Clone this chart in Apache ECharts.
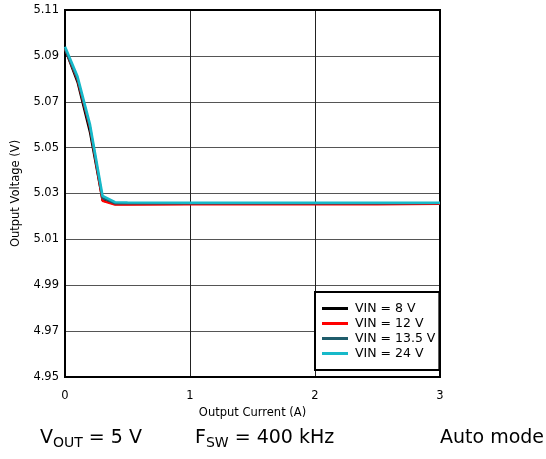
<!DOCTYPE html>
<html>
<head>
<meta charset="utf-8">
<script src="https://cdn.jsdelivr.net/npm/echarts@6/dist/echarts.min.js"></script>
<style>
  html, body { margin: 0; padding: 0; background: #fff; }
  #chart { width: 546px; height: 459px; }
</style>
</head>
<body>
<div id="chart"></div>
<script>
// Load regulation: output voltage vs. output current for several input voltages
const currents = [0, 0.1, 0.2, 0.3, 0.4, 0.5, 1, 1.5, 2, 2.5, 3];
const vin8   = [5.093, 5.0785, 5.0565, 5.0270, 5.0254, 5.0254, 5.0255, 5.0255, 5.0255, 5.0255, 5.0257];
const vin12  = [5.093, 5.0795, 5.0585, 5.0268, 5.0251, 5.0251, 5.0252, 5.0252, 5.0252, 5.0253, 5.0255];
const vin135 = [5.093, 5.0800, 5.0590, 5.0280, 5.0257, 5.0257, 5.0257, 5.0257, 5.0257, 5.0257, 5.0258];
const vin24  = [5.094, 5.0810, 5.0600, 5.0290, 5.0262, 5.0261, 5.0260, 5.0260, 5.0260, 5.0260, 5.0260];

const seriesNames = ['VIN = 8 V', 'VIN = 12 V', 'VIN = 13.5 V', 'VIN = 24 V'];
const seriesValues = [vin8, vin12, vin135, vin24];
const seriesColors = ['#000000', '#ff0000', '#1f5c6b', '#17b9c9'];

const yTicks = ['4.95', '4.97', '4.99', '5.01', '5.03', '5.05', '5.07', '5.09', '5.11'];
const xTicks = ['0', '1', '2', '3'];

const FONT = 'DejaVu Sans';

const chart = echarts.init(document.getElementById('chart'), null, { renderer: 'canvas' });

chart.setOption({
  animation: false,
  backgroundColor: '#fff',
  textStyle: { fontFamily: FONT },
  grid: {
    left: 65, right: 106, top: 10, bottom: 82,
    show: true, borderColor: '#000', borderWidth: 2, backgroundColor: 'transparent', z: 3
  },
  xAxis: {
    type: 'value',
    min: 0, max: 3, interval: 1,
    name: 'Output Current (A)',
    nameLocation: 'middle',
    nameGap: 28,
    nameTextStyle: { fontFamily: FONT, fontSize: 11.5, color: '#000' },
    axisLine: { show: false },
    axisTick: { show: false },
    axisLabel: { fontFamily: FONT, fontSize: 11.5, color: '#000', margin: 13,
      formatter: v => xTicks[Math.round(v)] },
    splitLine: { show: true, lineStyle: { color: '#222', width: 1 } }
  },
  yAxis: {
    type: 'value',
    min: 4.95, max: 5.11, interval: 0.02,
    name: 'Output Voltage (V)',
    nameLocation: 'middle',
    nameGap: 43,
    nameTextStyle: { fontFamily: FONT, fontSize: 11.5, color: '#000' },
    axisLine: { show: false },
    axisTick: { show: false },
    axisLabel: { fontFamily: FONT, fontSize: 11.5, color: '#000', margin: 6,
      formatter: v => yTicks[Math.round((v - 4.95) / 0.02)] },
    splitLine: { show: true, lineStyle: { color: '#555', width: 1 } }
  },
  legend: {
    orient: 'vertical',
    left: 315, top: 292,
    padding: [9, 4, 9, 7],
    itemGap: 0,
    itemWidth: 26, itemHeight: 3,
    icon: 'rect',
    backgroundColor: '#fff',
    borderColor: '#000', borderWidth: 2, borderRadius: 0,
    textStyle: { fontFamily: FONT, fontSize: 12.5, color: '#000', lineHeight: 15, padding: [0, 0, 0, 2] },
    data: seriesNames
  },
  series: seriesNames.map((name, i) => ({
    name,
    type: 'line',
    data: currents.map((c, k) => [c, seriesValues[i][k]]),
    showSymbol: false,
    symbol: 'none',
    lineStyle: { color: seriesColors[i], width: i === 3 ? 2.6 : 2.2 },
    itemStyle: { color: seriesColors[i] },
    z: 2 + i
  })),
  graphic: [
    {
      type: 'text', left: 40, top: 426,
      style: {
        text: '{m|V}{s|OUT}{m| = 5 V}',
        rich: {
          m: { fontFamily: FONT, fontSize: 19, fill: '#000', lineHeight: 24 },
          s: { fontFamily: FONT, fontSize: 14, fill: '#000', lineHeight: 24, padding: [10, 0, 0, 0] }
        }
      }
    },
    {
      type: 'text', left: 195, top: 426,
      style: {
        text: '{m|F}{s|SW}{m| = 400 kHz}',
        rich: {
          m: { fontFamily: FONT, fontSize: 19, fill: '#000', lineHeight: 24 },
          s: { fontFamily: FONT, fontSize: 14, fill: '#000', lineHeight: 24, padding: [10, 0, 0, 0] }
        }
      }
    },
    {
      type: 'text', left: 440, top: 426,
      style: {
        text: 'Auto mode',
        fontFamily: FONT, fontSize: 19, fill: '#000', lineHeight: 24
      }
    }
  ]
});
</script>
</body>
</html>
